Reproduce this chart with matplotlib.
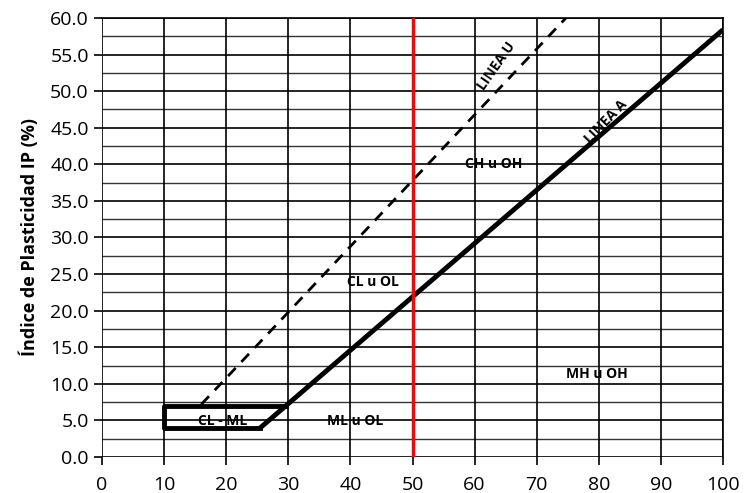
import numpy as np
import matplotlib
matplotlib.use("Agg")
from matplotlib import pyplot as plt

plt.rcParams['font.family'] = ['Open Sans', 'DejaVu Sans']

# Línea A: IP = 0.73 (LL - 20)
ll_a = [25.5, 100]
ip_a = [4.0, 58.4]
# Línea U: IP = 0.9 (LL - 8)
ll_u = [16, 74.7]
ip_u = [7.2, 60.0]
# zona CL-ML
ll_clml = [29.6, 10, 10, 25.5]
ip_clml = [7.0, 7.0, 4.0, 4.0]
# límite LL = 50
ll_lim = 50

# etiquetas de zonas
zonas = ["CL - ML", "ML u OL", "CL u OL", "CH u OH", "MH u OH"]
zonas_x = [19.5, 40.7, 43.6, 63, 79.7]
zonas_y = [4.9, 4.9, 23.9, 40.0, 11.3]

xticks = np.arange(0, 101, 10)
yticks = np.arange(0, 60.1, 5)

fig = plt.figure(figsize=(7.47, 4.93), dpi=100)
ax = fig.add_axes([102 / 747, 36 / 493, 621 / 747, 439 / 493])

# cuadrícula
for y in np.arange(2.5, 60, 5):
    ax.axhline(y, color='#333333', lw=1.0, zorder=1)
for y in yticks:
    ax.axhline(y, color='black', lw=1.2, zorder=1)
for x in xticks:
    ax.axvline(x, color='black', lw=1.2, zorder=1)

ax.plot(ll_a, ip_a, color='black', lw=3.5, solid_capstyle='butt', zorder=3)
ax.plot(ll_u, ip_u, color='black', lw=2, ls=(0, (4, 3)), zorder=3)
ax.plot(ll_clml, ip_clml, color='black', lw=3.5, zorder=3)
ax.axvline(ll_lim, color='#e01010', lw=2.5, zorder=4)

for t, x, y in zip(zonas, zonas_x, zonas_y):
    ax.text(x, y, t, ha='center', va='center', fontsize=10, fontweight='bold', zorder=5)

ax.text(63.6, 53.4, "LINEA U", rotation=55, ha='center', va='center',
        fontsize=10, fontweight='bold', zorder=5)
ax.text(81.2, 45.8, "LINEA A", rotation=46, ha='center', va='center',
        fontsize=10, fontweight='bold', zorder=5)

ax.set_xlim(0, 100)
ax.set_ylim(0, 60)
ax.set_xticks(xticks)
ax.set_yticks(yticks)
ax.set_yticklabels([f"{v:.1f}" for v in yticks])
ax.tick_params(axis='both', labelsize=14, length=6, width=1.2, direction='out')
ax.tick_params(axis='x', pad=8)
for s in ax.spines.values():
    s.set_linewidth(1.2)
ax.spines['left'].set_visible(False)
ax.spines['bottom'].set_visible(False)
ax.set_ylabel("Índice de Plasticidad IP (%)", fontsize=13, fontweight='bold', labelpad=8)

fig.savefig("out.png", dpi=100)
